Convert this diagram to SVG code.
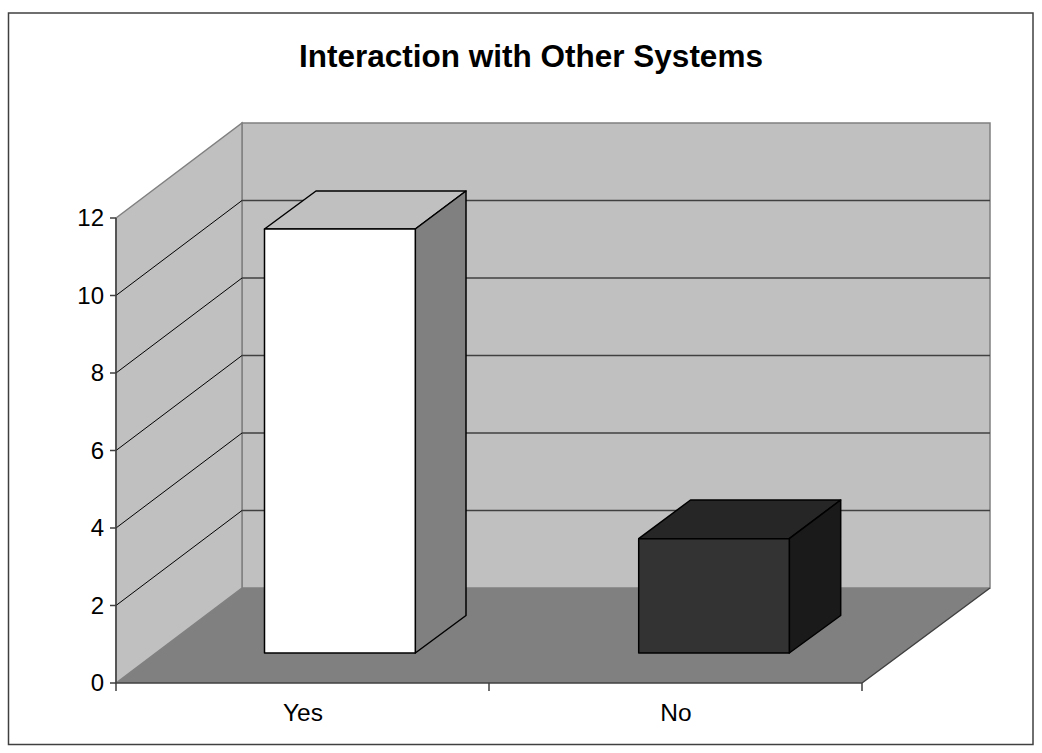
<svg xmlns="http://www.w3.org/2000/svg" width="1042" height="753" viewBox="0 0 1042 753">
  <style>
    .txt { font-family: "Liberation Sans", Arial, sans-serif; fill: #000; }
    .title { font-size: 31.5px; font-weight: bold; text-anchor: middle; }
    .ylab { font-size: 24px; text-anchor: end; }
    .xlab { font-size: 24.5px; text-anchor: middle; }
    .wall { fill: #C0C0C0; stroke: #808080; stroke-width: 1.5; }
    .grid { stroke: #404040; stroke-width: 1.3; fill: none; }
    .diag { stroke: #000; stroke-width: 1; fill: none; }
    .axis { stroke: #404040; stroke-width: 1.5; fill: none; }
    .bar { stroke: #000; stroke-width: 1.5; stroke-linejoin: round; }
  </style>

  <!-- chart frame -->
  <rect x="8.5" y="13" width="1024.5" height="731.5" fill="#FFFFFF" stroke="#404040" stroke-width="1.5"/>

  <text class="txt title" x="531" y="67">Interaction with Other Systems</text>

  <!-- walls and floor -->
  <g id="walls">
    <rect class="wall" x="242" y="123" width="748" height="465"/>
    <polygon class="wall" points="116,218 242,123 242,588 116,683"/>
    <polygon points="116,683 242,588 990,588 862,683" fill="#808080"/>
  </g>

  <!-- gridlines: back wall horizontals and left wall diagonals -->
  <g id="gridlines">
    <path class="grid" d="M242,510.5H990 M242,433H990 M242,355.5H990 M242,278H990 M242,200.5H990"/>
    <path class="diag" d="M116,605.5L242,510.5 M116,528L242,433 M116,450.5L242,355.5 M116,373L242,278 M116,295.5L242,200.5"/>
  </g>

  <!-- axes and ticks -->
  <g id="axes">
    <path class="axis" d="M116,218V691 M116,683H862 M862,683L990,588"/>
    <path class="axis" d="M110,683H116 M110,605.5H116 M110,528H116 M110,450.5H116 M110,373H116 M110,295.5H116 M110,218H116"/>
    <path class="axis" d="M489,683V691 M862,683V691"/>
  </g>

  <g id="y-labels">
    <text class="txt ylab" x="104" y="691">0</text>
    <text class="txt ylab" x="104" y="613.5">2</text>
    <text class="txt ylab" x="104" y="536">4</text>
    <text class="txt ylab" x="104" y="458.5">6</text>
    <text class="txt ylab" x="104" y="381">8</text>
    <text class="txt ylab" x="104" y="303.5">10</text>
    <text class="txt ylab" x="104" y="226">12</text>
  </g>

  <!-- bar: Yes = 11 -->
  <g id="bar-yes">
    <polygon class="bar" fill="#C0C0C0" points="264.5,229 316,191 466,191 415.3,229"/>
    <polygon class="bar" fill="#808080" points="415.3,229 466,191 466,615.5 415.3,653"/>
    <rect class="bar" fill="#FFFFFF" x="264.5" y="229" width="150.8" height="424"/>
  </g>

  <!-- bar: No = 3 -->
  <g id="bar-no">
    <polygon class="bar" fill="#262626" points="638.7,538.7 690.5,500 840.7,500 789.3,538.7"/>
    <polygon class="bar" fill="#1A1A1A" points="789.3,538.7 840.7,500 840.7,615.5 789.3,653"/>
    <rect class="bar" fill="#333333" x="638.7" y="538.7" width="150.6" height="114.3"/>
  </g>

  <g id="x-labels">
    <text class="txt xlab" x="303" y="721">Yes</text>
    <text class="txt xlab" x="676" y="721">No</text>
  </g>
</svg>
